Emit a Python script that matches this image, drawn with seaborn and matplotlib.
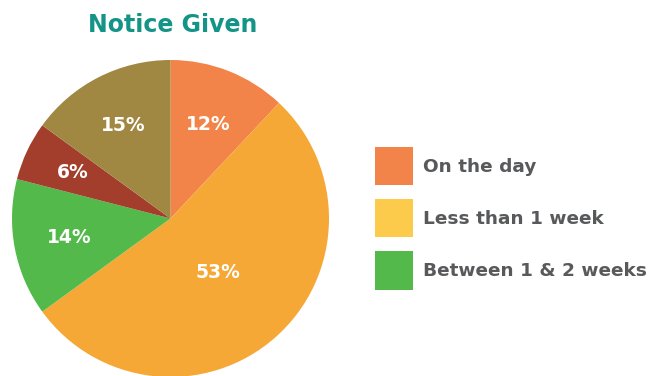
import numpy as np
import matplotlib
matplotlib.use("Agg")
import matplotlib.pyplot as plt
import seaborn as sns
from matplotlib.patches import Patch

categories = ["On the day", "Less than 1 week", "Between 1 & 2 weeks", "More than 2 weeks", "No notice"]
values = [12, 53, 14, 6, 15]
slice_colors = ["#F28449", "#F5A836", "#52B94A", "#A23E2B", "#A08842"]
legend_labels = ["On the day", "Less than 1 week", "Between 1 & 2 weeks"]
legend_colors = ["#F28449", "#FDCB4C", "#52B94A"]
label_radii = [0.64, 0.45, 0.65, 0.68, 0.66]

sns.set_theme(style="white")
plt.rcParams["font.family"] = ["DejaVu Sans"]

fig = plt.figure(figsize=(6.5, 3.76), dpi=100)
W, H = 650, 376
cx, cy, r = 170.5, 218.5, 158.5
ax = fig.add_axes([(cx - r) / W, (H - cy - r) / H, 2 * r / W, 2 * r / H])
wedges, _ = ax.pie(values, colors=slice_colors, startangle=90, counterclock=False,
                   radius=1, wedgeprops=dict(linewidth=0))
ax.set_xlim(-1, 1)
ax.set_ylim(-1, 1)
ax.set_aspect("auto")
ax.axis("off")

for w, v, rr in zip(wedges, values, label_radii):
    ang = np.deg2rad((w.theta1 + w.theta2) / 2)
    ax.text(rr * np.cos(ang), rr * np.sin(ang), f"{v}%", ha="center", va="center",
            color="white", fontsize=13.5, fontweight="bold")

fig.text(173 / W, 1 - 25 / H, "Notice Given", ha="center", va="center",
         color="#149487", fontsize=17, fontweight="bold")

handles = [Patch(facecolor=c, edgecolor="none") for c in legend_colors]
fs = 13.3
leg = fig.legend(handles, legend_labels, loc="upper left",
                 bbox_to_anchor=(375 / W, 1 - 147 / H), frameon=False,
                 borderpad=0, borderaxespad=0, handlelength=2.06, handleheight=2.8,
                 handletextpad=0.55, labelspacing=0.76,
                 prop=dict(size=fs, weight="bold"))
for t in leg.get_texts():
    t.set_color("#58595B")

fig.savefig("out.png", dpi=100)
